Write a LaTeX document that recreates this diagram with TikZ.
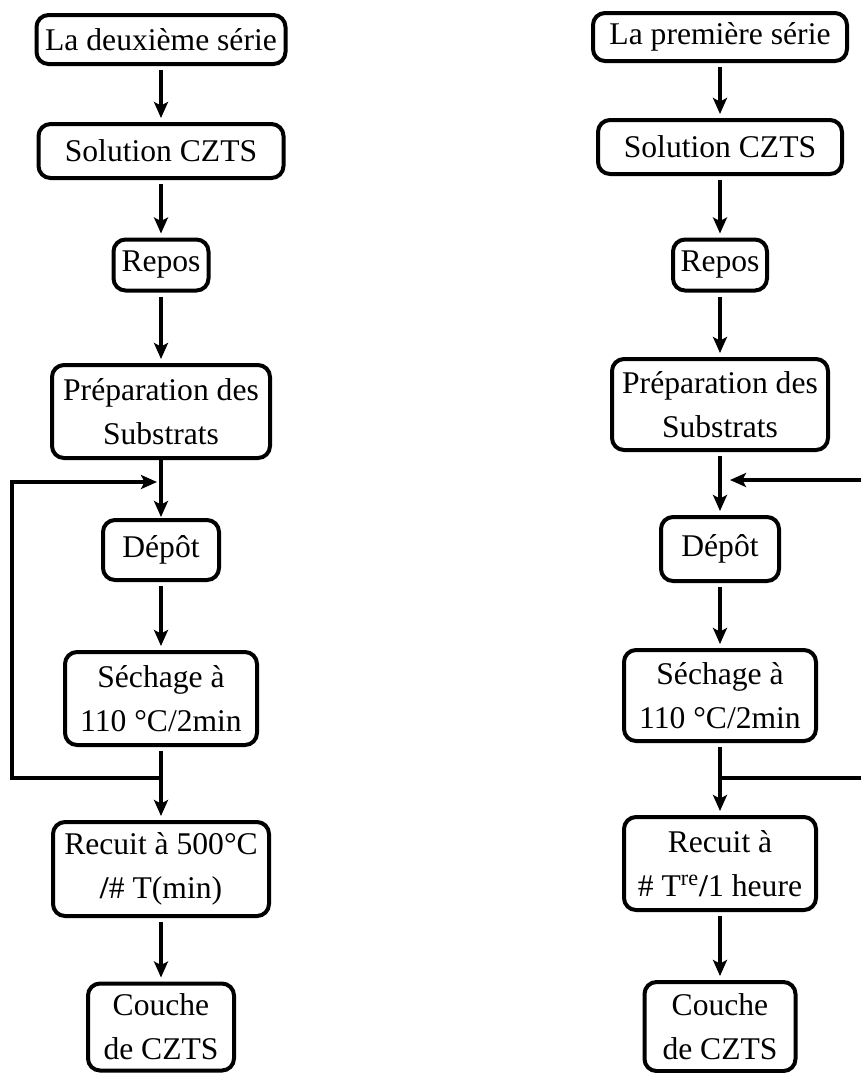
\documentclass[tikz,border=0pt]{standalone}
\usepackage{fontspec}
\setmainfont{Liberation Serif}
\usetikzlibrary{arrows.meta, positioning}

\begin{document}
\begin{tikzpicture}
    [
        x=0.5pt, y=-0.5pt,
        font=\fontsize{15.8pt}{22pt}\selectfont,
        box/.style={draw, line width=2pt, rounded corners=6pt, align=center, inner sep=0pt}
    ]
    \tikzstyle{line} = [draw, line width=2pt, -{Stealth[length=8pt, width=7pt, inset=1.8pt]}]
    \tikzstyle{flow} = [line, shorten <=2pt, shorten >=2pt]

    \useasboundingbox (0,0) rectangle (861,1073);

    \begin{scope}
        % Colonne de gauche : deuxieme serie
        \node[box, minimum width=124.5pt, minimum height=24.5pt] (serie_g) at (161,39.5) {La deuxième série};
        \node[box, below of=serie_g, node distance=55.75pt, minimum width=122.5pt, minimum height=27pt] (sol_g) {Solution CZTS};
        \node[box, below of=sol_g, node distance=57pt, minimum width=47.5pt, minimum height=25.5pt] (repos_g) {Repos};
        \node[box, below of=repos_g, node distance=73.25pt, minimum width=109pt, minimum height=46.5pt] (prep_g) {Préparation des\\Substrats};
        \node[box, below of=prep_g, node distance=69.25pt, minimum width=58pt, minimum height=30pt] (depot_g) {Dépôt};
        \node[box, below of=depot_g, node distance=74.25pt, minimum width=96pt, minimum height=46.5pt] (sech_g) {Séchage à\\110 °C/2min};
        \node[box, below of=sech_g, node distance=85.25pt, minimum width=108pt, minimum height=47pt] (recuit_g) {Recuit à 500°C\\\textbf{/}\# T(min)};
        \node[box, below of=recuit_g, node distance=79pt, minimum width=73pt, minimum height=43.5pt] (couche_g) {Couche\\de CZTS};
        \path[flow] (serie_g) -- (sol_g);
        \path[flow] (sol_g) -- (repos_g);
        \path[flow] (repos_g) -- (prep_g);
        \path[line, shorten >=0.5pt] (prep_g) -- (depot_g);
        \path[flow] (depot_g) -- (sech_g);
        \path[flow] (sech_g) -- (recuit_g);
        \path[flow] (recuit_g) -- (couche_g);

        % Boucle de gauche
        \coordinate (g_split) at ([yshift=-15.5pt]sech_g.south);
        \coordinate (g_bas) at (12,778);
        \coordinate (g_haut) at (12,482);
        \path[line, shorten >=2pt] (g_split) -- (g_bas) -- (g_haut) -- (g_haut -| prep_g.south);

        % Colonne de droite : premiere serie
        \node[box, minimum width=127pt, minimum height=24pt] (serie_d) at (720,37) {La première série};
        \node[box, below of=serie_d, node distance=55pt, minimum width=122pt, minimum height=27pt] (sol_d) {Solution CZTS};
        \node[box, below of=sol_d, node distance=59pt, minimum width=47pt, minimum height=25.5pt] (repos_d) {Repos};
        \node[box, below of=repos_d, node distance=69.75pt, minimum width=108pt, minimum height=45.5pt] (prep_d) {Préparation des\\Substrats};
        \node[box, below of=prep_d, node distance=72.25pt, minimum width=59pt, minimum height=32pt] (depot_d) {Dépôt};
        \node[box, below of=depot_d, node distance=73.25pt, minimum width=96pt, minimum height=45.5pt] (sech_d) {Séchage à\\110 °C/2min};
        \node[box, below of=sech_d, node distance=84pt, minimum width=96pt, minimum height=46.5pt] (recuit_d) {Recuit à\\\# T\textsuperscript{re}\textbf{/}1 heure};
        \node[box, below of=recuit_d, node distance=81.5pt, minimum width=75.5pt, minimum height=44.5pt] (couche_d) {Couche\\de CZTS};
        \path[flow] (serie_d) -- (sol_d);
        \path[flow] (sol_d) -- (repos_d);
        \path[flow] (repos_d) -- (prep_d);
        \path[flow] (prep_d) -- (depot_d);
        \path[flow] (depot_d) -- (sech_d);
        \path[flow] (sech_d) -- (recuit_d);
        \path[flow] (recuit_d) -- (couche_d);

        % Boucle de droite
        \coordinate (d_split) at ([yshift=-17.5pt]sech_d.south);
        \coordinate (d_bas) at (870,778);
        \coordinate (d_haut) at (870,480);
        \path[line, shorten >=5pt] (d_split) -- (d_bas) -- (d_haut) -- (d_haut -| prep_d.south);
    \end{scope}
\end{tikzpicture}
\end{document}
